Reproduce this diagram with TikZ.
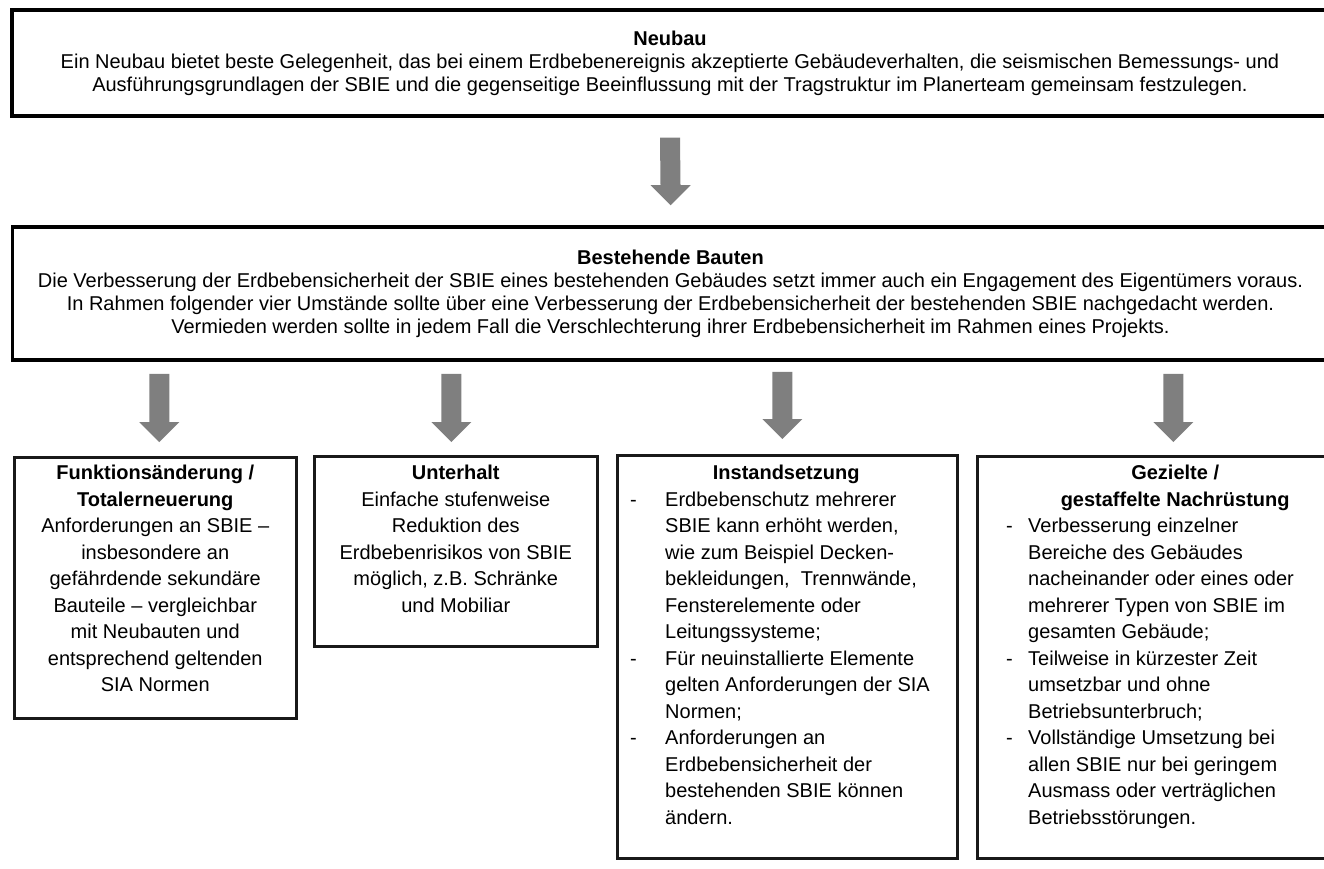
\documentclass[tikz,border=0pt]{standalone}
\usepackage{fontspec}
\setmainfont{Liberation Sans}
\usetikzlibrary{calc}
\definecolor{arrowgray}{HTML}{7F7F7F}
\newcommand{\dashi}[1]{\makebox[#1][l]{-}}
\newcommand{\indi}[1]{\hspace*{#1}}
\begin{document}
\begin{tikzpicture}[x=1pt,y=-1pt,
  topbox/.style={draw=black, line width=3.5pt, minimum width=1316pt, inner sep=0pt,
    font=\fontsize{20}{23}\selectfont, align=center},
  lowbox/.style={draw=black!90, line width=2.5pt, anchor=north west, inner sep=0pt},
  lowtext/.style={inner sep=0pt, font=\fontsize{20}{26.5}\selectfont},
  blockarr/.style={to path={
    ($(\tikztostart)+(-10,0)$) -- ($(\tikztotarget)+(-10,-20)$) -- ($(\tikztotarget)+(-20,-20)$)
    -- (\tikztotarget) -- ($(\tikztotarget)+(20,-20)$) -- ($(\tikztotarget)+(10,-20)$)
    -- ($(\tikztostart)+(10,0)$) -- cycle}}
]
\useasboundingbox (0,0) rectangle (1324,869);
\clip (0,0) rectangle (1324,869);

\node[topbox, minimum height=106pt] (neubau) at (670,63)
  {\textbf{Neubau}\\
   Ein Neubau bietet beste Gelegenheit, das bei einem Erdbebenereignis akzeptierte Gebäudeverhalten, die seismischen Bemessungs- und\\
   Ausführungsgrundlagen der SBIE und die gegenseitige Beeinflussung mit der Tragstruktur im Planerteam gemeinsam festzulegen.};

\node[topbox, minimum height=133pt] (best) at (670.5,293.5)
  {\textbf{Bestehende Bauten}\\
   Die Verbesserung der Erdbebensicherheit der SBIE eines bestehenden Gebäudes setzt immer auch ein Engagement des Eigentümers voraus.\\
   In Rahmen folgender vier Umstände sollte über eine Verbesserung der Erdbebensicherheit der bestehenden SBIE nachgedacht werden.\\
   Vermieden werden sollte in jedem Fall die Verschlechterung ihrer Erdbebensicherheit im Rahmen eines Projekts.};

\node[lowbox, minimum width=282pt, minimum height=261pt] (funk) at (13,456) {};
\node[lowbox, minimum width=283pt, minimum height=190pt] (unter) at (313,455) {};
\node[lowbox, minimum width=340pt, minimum height=403pt] (inst) at (616,454) {};
\node[lowbox, minimum width=398pt, minimum height=402pt] (gez) at (976,455) {};

\node[lowtext, align=center, anchor=north] (funkt) at ($(funk.north)+(0,9)$)
  {\textbf{Funktionsänderung /}\\ \textbf{Totalerneuerung}\\
   Anforderungen an SBIE –\\ insbesondere an\\ gefährdende sekundäre\\
   Bauteile – vergleichbar\\ mit Neubauten und\\ entsprechend geltenden\\ SIA Normen};

\node[lowtext, align=center, anchor=north] (untert) at ($(unter.north)+(0,10)$)
  {\textbf{Unterhalt}\\ Einfache stufenweise\\ Reduktion des\\ Erdbebenrisikos von SBIE\\
   möglich, z.B. Schränke\\ und Mobiliar};

\node[lowtext, align=left, anchor=north west] (instt) at (630,465)
  {\makebox[312pt][c]{\textbf{Instandsetzung}}\\
   \dashi{35pt}Erdbebenschutz mehrerer\\
   \indi{35pt}SBIE kann erhöht werden,\\
   \indi{35pt}wie zum Beispiel Decken-\\
   \indi{35pt}bekleidungen,\ \ Trennwände,\\
   \indi{35pt}Fensterelemente oder\\
   \indi{35pt}Leitungssysteme;\\
   \dashi{35pt}Für neuinstallierte Elemente\\
   \indi{35pt}gelten Anforderungen der SIA\\
   \indi{35pt}Normen;\\
   \dashi{35pt}Anforderungen an\\
   \indi{35pt}Erdbebensicherheit der\\
   \indi{35pt}bestehenden SBIE können\\
   \indi{35pt}ändern.};

\node[lowtext, align=left, anchor=north west] (gezt) at (1006,465)
  {\makebox[338pt][c]{\textbf{Gezielte /}}\\
   \makebox[338pt][c]{\textbf{gestaffelte Nachrüstung}}\\
   \dashi{22pt}Verbesserung einzelner\\
   \indi{22pt}Bereiche des Gebäudes\\
   \indi{22pt}nacheinander oder eines oder\\
   \indi{22pt}mehrerer Typen von SBIE im\\
   \indi{22pt}gesamten Gebäude;\\
   \dashi{22pt}Teilweise in kürzester Zeit\\
   \indi{22pt}umsetzbar und ohne\\
   \indi{22pt}Betriebsunterbruch;\\
   \dashi{22pt}Vollständige Umsetzung bei\\
   \indi{22pt}allen SBIE nur bei geringem\\
   \indi{22pt}Ausmass oder verträglichen\\
   \indi{22pt}Betriebsstörungen.};

\fill[arrowgray] ($(neubau.south)+(0,20)$) to[blockarr] ($(best.north)+(0,-20)$);
\fill[arrowgray] ($(best.south -| funk.north)+(4,12)$) to[blockarr] ($(funk.north)+(4,-14)$);
\fill[arrowgray] ($(best.south -| unter.north)+(-4.5,12)$) to[blockarr] ($(unter.north)+(-4.5,-13)$);
\fill[arrowgray] ($(best.south -| inst.north)+(-5,10)$) to[blockarr] ($(inst.north)+(-5,-15)$);
\fill[arrowgray] ($(best.south -| gez.north)+(-3,12)$) to[blockarr] ($(gez.north)+(-3,-13)$);
\end{tikzpicture}
\end{document}
